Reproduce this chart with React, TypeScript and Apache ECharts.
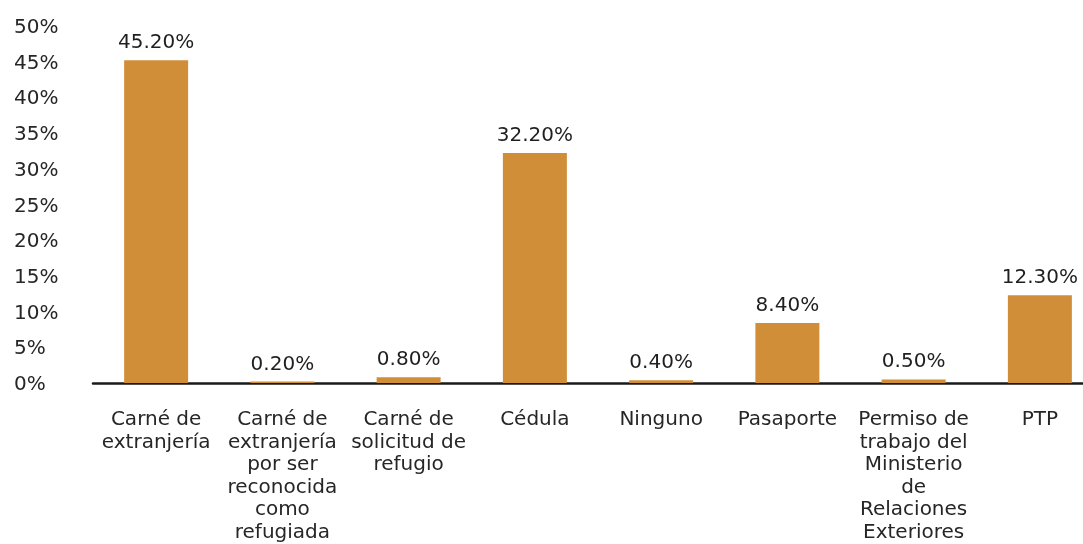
import React, { useEffect, useRef } from "react";
import * as echarts from "echarts";

const categories = [
  "Carné de\nextranjería",
  "Carné de\nextranjería\npor ser\nreconocida\ncomo\nrefugiada",
  "Carné de\nsolicitud de\nrefugio",
  "Cédula",
  "Ninguno",
  "Pasaporte",
  "Permiso de\ntrabajo del\nMinisterio\nde\nRelaciones\nExteriores",
  "PTP",
];
const values = [45.2, 0.2, 0.8, 32.2, 0.4, 8.4, 0.5, 12.3];
const yTicks = { min: 0, max: 50, interval: 5 };

export default function App() {
  const ref = useRef<HTMLDivElement>(null);
  useEffect(() => {
    if (!ref.current) return;
    const chart = echarts.init(ref.current, null, { renderer: "svg" });
    const font = "'DejaVu Sans', 'Noto Sans', sans-serif";
    chart.setOption({
      animation: false,
      grid: { left: 93, right: 0, top: 26, bottom: 161, containLabel: false },
      xAxis: {
        type: "category",
        data: categories,
        axisLine: { show: true, lineStyle: { color: "#1a1a1a", width: 2.5 } },
        axisTick: { show: false },
        axisLabel: {
          interval: 0,
          margin: 24,
          fontSize: 20,
          lineHeight: 22.5,
          color: "#262626",
          fontFamily: font,
          verticalAlign: "top",
        },
      },
      yAxis: {
        type: "value",
        min: yTicks.min,
        max: yTicks.max,
        interval: yTicks.interval,
        axisLine: { show: false },
        axisTick: { show: false },
        splitLine: { show: false },
        axisLabel: {
          formatter: "{value}%",
          align: "left",
          margin: 79,
          fontSize: 20,
          color: "#262626",
          fontFamily: font,
        },
      },
      series: [
        {
          type: "bar",
          data: values,
          barWidth: 64,
          itemStyle: { color: "#D18E38" },
          label: {
            show: true,
            position: "top",
            distance: 9,
            formatter: (p: any) => p.value.toFixed(2) + "%",
            fontSize: 20,
            color: "#1f1f1f",
            fontFamily: font,
          },
        },
      ],
    });
    return () => chart.dispose();
  }, []);
  return (
    <div
      ref={ref}
      style={{ position: "fixed", left: 0, top: 0, width: 1103, height: 544 }}
    />
  );
}
